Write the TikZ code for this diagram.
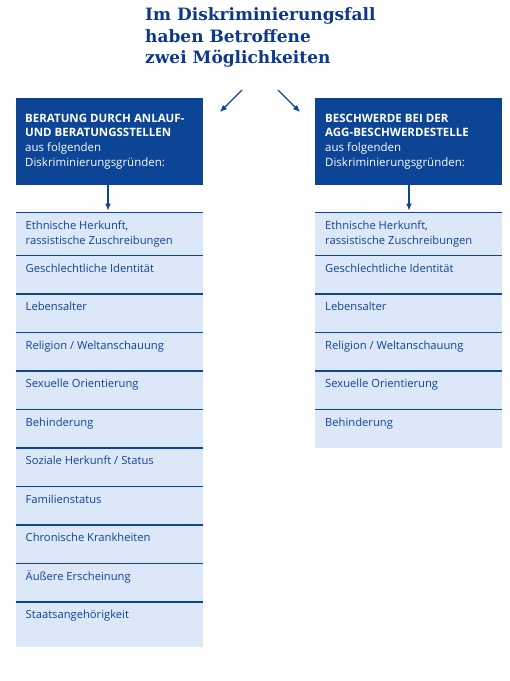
\documentclass[tikz,border=0pt]{standalone}
\usepackage{fontspec}
\setmainfont{DejaVu Serif}
\setsansfont{Open Sans}
\usetikzlibrary{arrows.meta}

\definecolor{titelblau}{RGB}{14,56,142}
\definecolor{kastenblau}{RGB}{12,68,150}
\definecolor{zeilenblau}{RGB}{220,232,248}
\definecolor{textblau}{RGB}{18,66,156}

\begin{document}
\begin{tikzpicture}[x=1pt,y=-1pt,
    kopf/.style={rectangle, fill=kastenblau, minimum width=187pt, minimum height=87pt, anchor=north west, inner sep=0pt},
    kopftext/.style={anchor=base west, inner sep=0pt, align=left, text=white, font=\sffamily\fontsize{11.5}{14.6}\selectfont},
    zeile/.style={rectangle, fill=zeilenblau, minimum width=187pt, minimum height=38.5pt, anchor=north west, inner sep=0pt},
    grund/.style={anchor=base west, inner sep=0pt, align=left, text=textblau, font=\sffamily\fontsize{11.2}{15}\selectfont},
    linie/.style={draw=kastenblau, line width=1.6pt},
    pfeil/.style={-{Latex[length=7pt,width=6pt]}, draw=kastenblau, line width=1.1pt}]
        \useasboundingbox[fill=white] (0,0) rectangle (510,681);
        % Titel
        \node[anchor=base west, inner sep=0pt, align=left, text=titelblau, font=\bfseries\fontsize{17}{21.3}\selectfont] (titel) at (145,63.3) {Im Diskriminierungsfall\\haben Betroffene\\zwei Möglichkeiten};
        \coordinate (gabel links) at (242,90);
        \coordinate (ziel links) at (220,112);
        \coordinate (gabel rechts) at (278,90);
        \coordinate (ziel rechts) at (300,112);
        \draw[pfeil] (gabel links) -- (ziel links);
        \draw[pfeil] (gabel rechts) -- (ziel rechts);
        % Kopfkaesten
        \node[kopf] (beratung) at (16,98) {};
        \node[kopf] (beschwerde) at (315,98) {};
        \node[kopftext] (beratung text) at (25,166) {\textbf{BERATUNG DURCH ANLAUF-}\\\textbf{UND BERATUNGSSTELLEN}\\aus folgenden\\Diskriminierungsgründen:};
        \node[kopftext] (beschwerde text) at (325,166) {\textbf{BESCHWERDE BEI DER}\\\textbf{AGG-BESCHWERDESTELLE}\\aus folgenden\\Diskriminierungsgründen:};
        % linke Spalte
        \node[zeile, minimum height=43pt] (l1) at (16,212.5) {};
        \node[zeile] (l2) at (16,255.5) {};
        \node[zeile] (l3) at (16,294) {};
        \node[zeile] (l4) at (16,332.5) {};
        \node[zeile] (l5) at (16,371) {};
        \node[zeile] (l6) at (16,409.5) {};
        \node[zeile] (l7) at (16,448) {};
        \node[zeile] (l8) at (16,486.5) {};
        \node[zeile] (l9) at (16,525) {};
        \node[zeile] (l10) at (16,563.5) {};
        \node[zeile, minimum height=44.5pt] (l11) at (16,602) {};
        % rechte Spalte
        \node[zeile, minimum height=43pt] (r1) at (315,212.5) {};
        \node[zeile] (r2) at (315,255.5) {};
        \node[zeile] (r3) at (315,294) {};
        \node[zeile] (r4) at (315,332.5) {};
        \node[zeile] (r5) at (315,371) {};
        \node[zeile] (r6) at (315,409.5) {};
        \foreach \z in {l1,l2,l3,l4,l5,l6,l7,l8,l9,l10,l11,r1,r2,r3,r4,r5,r6}
            \draw[linie] (\z.north west) -- (\z.north east);
        \draw[pfeil] (beratung.south -| 108,0) -- ([yshift=2pt]l1.north -| 108,0);
        \draw[pfeil] (beschwerde.south -| 409,0) -- ([yshift=2pt]r1.north -| 409,0);
        % Gruende
        \node[grund] at (25.5,244.3) {Ethnische Herkunft,\\rassistische Zuschreibungen};
        \node[grund] at (25.5,272.1) {Geschlechtliche Identität};
        \node[grund] at (25.5,310.6) {Lebensalter};
        \node[grund] at (25.5,349.1) {Religion / Weltanschauung};
        \node[grund] at (25.5,387.6) {Sexuelle Orientierung};
        \node[grund] at (25.5,426.1) {Behinderung};
        \node[grund] at (25.5,464.6) {Soziale Herkunft / Status};
        \node[grund] at (25.5,503.1) {Familienstatus};
        \node[grund] at (25.5,541.6) {Chronische Krankheiten};
        \node[grund] at (25.5,580.1) {Äußere Erscheinung};
        \node[grund] at (25.5,618.6) {Staatsangehörigkeit};
        \node[grund] at (325,244.3) {Ethnische Herkunft,\\rassistische Zuschreibungen};
        \node[grund] at (325,272.1) {Geschlechtliche Identität};
        \node[grund] at (325,310.6) {Lebensalter};
        \node[grund] at (325,349.1) {Religion / Weltanschauung};
        \node[grund] at (325,387.6) {Sexuelle Orientierung};
        \node[grund] at (325,426.1) {Behinderung};
    \end{tikzpicture}
\end{document}
